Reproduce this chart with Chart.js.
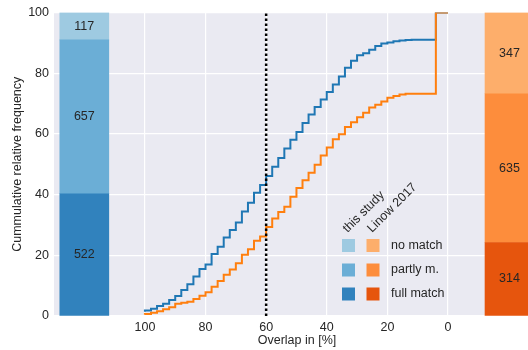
<!DOCTYPE html>
<html>
<head>
<meta charset="utf-8">
<script src="https://cdn.jsdelivr.net/npm/chart.js@4.4.0/dist/chart.umd.min.js"></script>
<style>
  html, body { margin: 0; padding: 0; background: #fff; }
  #wrap { width: 528px; height: 350px; }
</style>
</head>
<body>
<div id="wrap"><canvas id="chart" width="528" height="350"></canvas></div>
<script>
// overlap bins in %, each value holds from its bin down to the next one
const overlapBins = [100, 98, 96, 94, 92, 90, 88, 86, 84, 82, 80, 78, 76, 74, 72, 70, 68, 66, 64, 62,
                     60, 58, 56, 54, 52, 50, 48, 46, 44, 42, 40, 38, 36, 34, 32, 30, 28, 26, 24, 22,
                     20, 18, 16, 14, 12, 10, 8, 6, 4, 2, 0];

// cumulative relative frequency (%)
const thisStudy = [1.4, 1.8, 2.4, 3.3, 4.0, 5.3, 6.6, 8.6, 10.5, 13.0, 15.5, 17.0, 20.4, 22.8, 25.9, 28.3, 30.8, 34.4, 37.3, 40.6,
                   43.2, 46.1, 49.2, 52.1, 55.2, 58.1, 60.6, 63.6, 66.4, 68.9, 71.3, 73.8, 76.3, 78.9, 81.8, 84.1, 85.9, 86.6, 87.7, 89.0,
                   89.8, 90.1, 90.5, 90.8, 90.9, 91.0, 91.0, 91.0, 91.0, 100, 100];
const linow2017 = [0.4, 0.7, 1.1, 1.6, 2.2, 2.9, 4.0, 4.4, 4.7, 5.6, 6.7, 7.8, 9.6, 11.5, 13.6, 15.3, 17.4, 20.2, 22.0, 24.8,
                   26.2, 29.3, 32.1, 34.3, 36.0, 39.3, 42.2, 44.7, 47.2, 49.8, 52.9, 55.5, 58.2, 59.9, 62.3, 63.8, 65.5, 67.0, 68.7, 69.6,
                   70.7, 71.9, 72.5, 73.0, 73.2, 73.2, 73.2, 73.2, 73.2, 100, 100];

const threshold = 60;

// match categories, bottom to top
const matchLabels = ['full match', 'partly m.', 'no match'];
const thisStudyCounts = [522, 657, 117];
const linowCounts = [314, 635, 347];

const xTicks = [0, 20, 40, 60, 80, 100];
const yTicks = [0, 20, 40, 60, 80, 100];

const blues = ['#3182bd', '#6baed6', '#9ecae1'];
const oranges = ['#e6550d', '#fd8d3c', '#fdae6b'];
const textColor = '#262626';
const fontFamily = "'Liberation Sans', Arial, sans-serif";

function stackBars(counts, colors, xPos) {
    const total = counts.reduce((a, b) => a + b, 0);
    let lo = 0;
    return counts.map((c, i) => {
        const hi = lo + c / total * 100;
        const ds = {
            type: 'bar',
            data: [{ x: xPos, y: [lo, hi] }],
            backgroundColor: colors[i],
            barThickness: 49,
            grouped: false,
            borderWidth: 0,
            order: 5,
            countLabel: String(c)
        };
        lo = hi;
        return ds;
    });
}

function stepLine(values, color, order) {
    return {
        type: 'line',
        data: overlapBins.map((x, i) => ({ x: x, y: values[i] })),
        borderColor: color,
        borderWidth: 2,
        stepped: 'after',
        pointRadius: 0,
        fill: false,
        order: order
    };
}

const plotBackground = {
    id: 'plotBackground',
    beforeDraw(chart) {
        const { ctx, chartArea } = chart;
        ctx.save();
        ctx.fillStyle = '#eaeaf2';
        ctx.fillRect(chartArea.left, chartArea.top, chartArea.right - chartArea.left, chartArea.bottom - chartArea.top);
        ctx.restore();
    }
};

const barLabels = {
    id: 'barLabels',
    afterDatasetsDraw(chart) {
        const ctx = chart.ctx;
        ctx.save();
        ctx.font = '12.5px ' + fontFamily;
        ctx.fillStyle = textColor;
        ctx.textAlign = 'center';
        ctx.textBaseline = 'middle';
        chart.data.datasets.forEach((ds, i) => {
            if (!ds.countLabel) return;
            const el = chart.getDatasetMeta(i).data[0];
            ctx.fillText(ds.countLabel, el.x, (el.y + el.base) / 2);
        });
        ctx.restore();
    }
};

// legend in the plot plus the x axis title (the axes in the original run past the right edge)
const matchLegend = {
    id: 'matchLegend',
    afterDraw(chart) {
        const ctx = chart.ctx;
        const cols = [348.5, 373];
        const rows = [294, 270, 245.5];
        ctx.save();
        ctx.font = '12.5px ' + fontFamily;
        ctx.fillStyle = textColor;
        ['this study', 'Linow 2017'].forEach((t, i) => {
            ctx.save();
            ctx.translate(cols[i] - 1, 233);
            ctx.rotate(-Math.PI / 4);
            ctx.textAlign = 'left';
            ctx.textBaseline = 'alphabetic';
            ctx.fillText(t, 0, 0);
            ctx.restore();
        });
        matchLabels.forEach((lab, i) => {
            ctx.fillStyle = blues[i];
            ctx.fillRect(cols[0] - 6.5, rows[i] - 6.5, 13, 13);
            ctx.fillStyle = oranges[i];
            ctx.fillRect(cols[1] - 6.5, rows[i] - 6.5, 13, 13);
            ctx.fillStyle = textColor;
            ctx.textAlign = 'left';
            ctx.textBaseline = 'middle';
            ctx.fillText(lab, 391, rows[i]);
        });
        ctx.textAlign = 'center';
        ctx.textBaseline = 'middle';
        ctx.fillText('Overlap in [%]', 297, 341);
        ctx.restore();
    }
};

const datasets = [
    {
        type: 'line',
        data: [{ x: threshold, y: 0 }, { x: threshold, y: 100 }],
        borderColor: '#000',
        borderWidth: 2.5,
        borderDash: [2.5, 2.5],
        pointRadius: 0,
        order: 0
    },
    stepLine(linow2017, '#ff7f0e', 1),
    stepLine(thisStudy, '#1f77b4', 2)
].concat(stackBars(thisStudyCounts, blues, 120), stackBars(linowCounts, oranges, -20.3));

new Chart(document.getElementById('chart'), {
    type: 'line',
    data: { datasets: datasets },
    options: {
        responsive: false,
        animation: false,
        layout: { padding: { top: 12, left: 0, right: 0, bottom: 0 } },
        plugins: { legend: { display: false }, tooltip: { enabled: false } },
        scales: {
            x: {
                type: 'linear',
                reverse: true,
                offset: false,
                min: -26.4,
                max: 130,
                afterBuildTicks(scale) { scale.ticks = xTicks.map(v => ({ value: v })); },
                afterFit(scale) { scale.height = 34; },
                grid: { color: '#ffffff', lineWidth: 1.2, drawTicks: false, offset: false },
                border: { display: false },
                ticks: { color: textColor, padding: 4, font: { size: 12.5, family: fontFamily } }
            },
            y: {
                min: 0,
                max: 100,
                afterBuildTicks(scale) { scale.ticks = yTicks.map(v => ({ value: v })); },
                afterFit(scale) { scale.width = 54; },
                grid: { color: '#ffffff', lineWidth: 1.2, drawTicks: false },
                border: { display: false },
                ticks: { color: textColor, padding: 5, font: { size: 12.5, family: fontFamily } },
                title: {
                    display: true,
                    text: 'Cummulative relative frequency',
                    color: textColor,
                    font: { size: 12.5, family: fontFamily },
                    padding: { top: 10.5, bottom: 0 }
                }
            }
        }
    },
    plugins: [plotBackground, barLabels, matchLegend]
});
</script>
</body>
</html>
